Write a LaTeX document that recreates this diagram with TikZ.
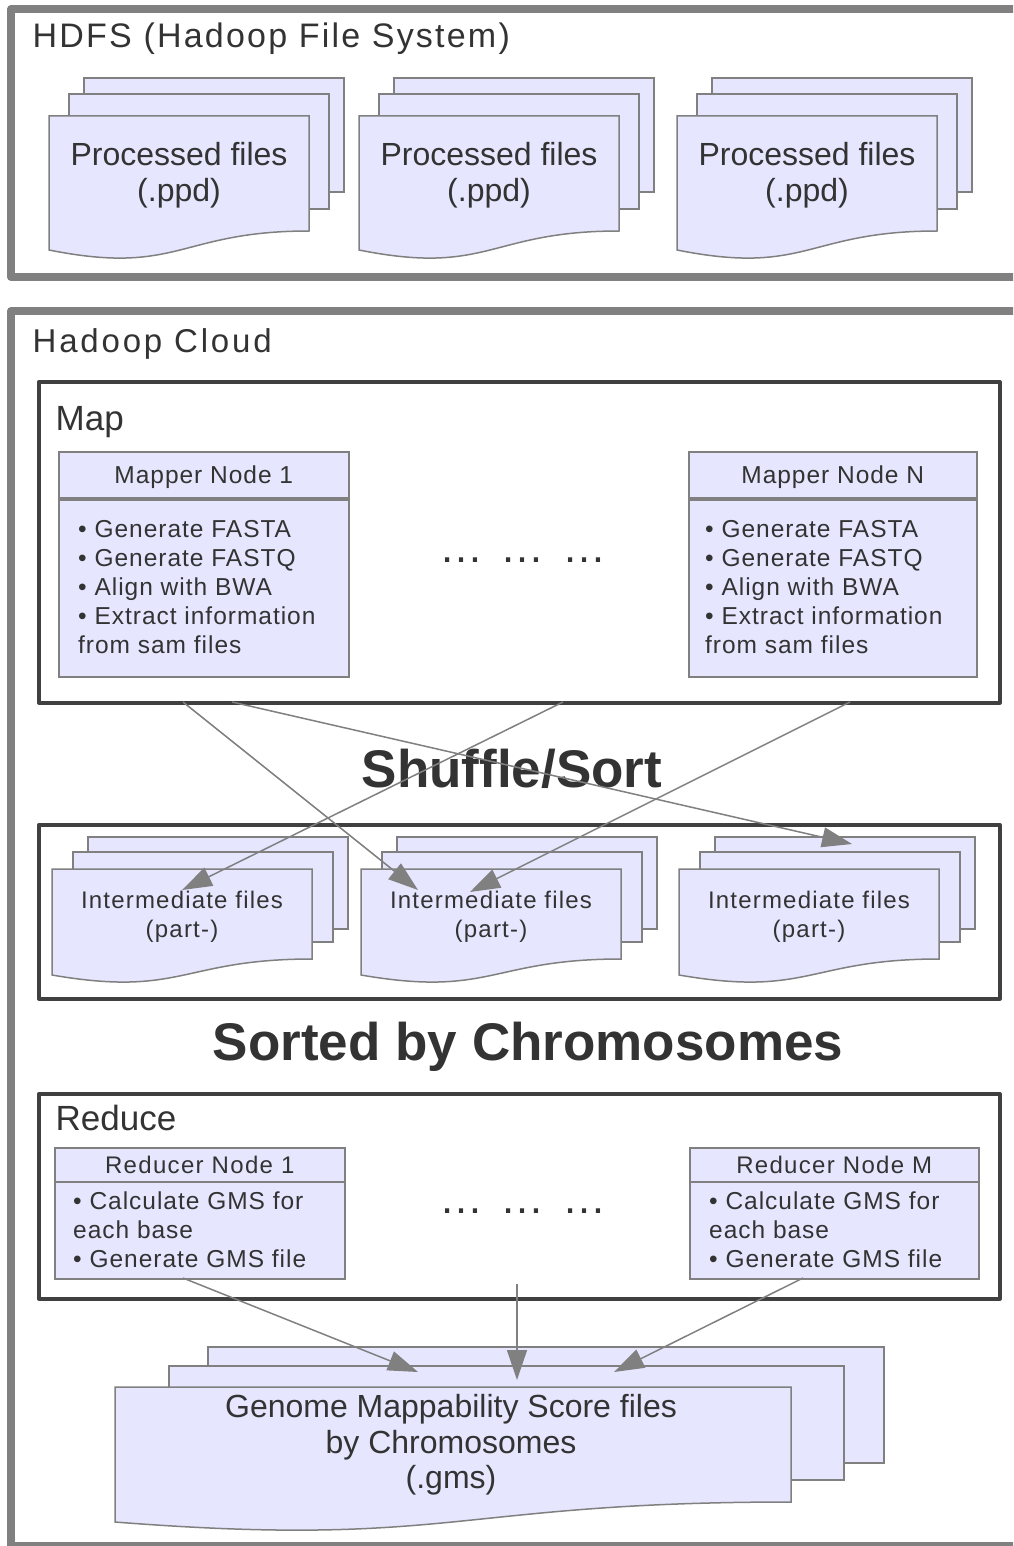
\documentclass[tikz,border=0pt]{standalone}
\usepackage{fontspec}
\setmainfont{Liberation Sans}
\newfontfamily\ftitle[LetterSpace=6.5]{Liberation Sans}
\newfontfamily\fcloud[LetterSpace=8.5]{Liberation Sans}
\newfontfamily\fsmall[LetterSpace=4]{Liberation Sans}
\newfontfamily\fred[LetterSpace=5.5]{Liberation Sans}
\newfontfamily\fmid[LetterSpace=5]{Liberation Sans}
\usetikzlibrary{arrows.meta,calc}
\definecolor{docfill}{HTML}{E6E6FF}
\definecolor{docline}{HTML}{808080}
\definecolor{frameline}{HTML}{808080}
\definecolor{boxline}{HTML}{404040}
\definecolor{txt}{HTML}{333333}
\definecolor{arr}{HTML}{808080}
\tikzset{
  docsheet/.style={fill=docfill,draw=docline,line width=1.5pt,line join=miter},
  frame/.style={draw=frameline,line width=8pt,line join=round},
  stagebox/.style={draw=boxline,line width=3.5pt,line join=round,anchor=north west,inner sep=0pt},
  nodebox/.style={draw=docline,fill=docfill,line width=1.5pt,anchor=north west,inner sep=0pt},
  paneltitle/.style={anchor=base west,inner sep=0pt,text=txt,font=\ftitle\fontsize{34}{38}\selectfont},
  stagetitle/.style={anchor=base west,inner sep=0pt,text=txt,font=\fontsize{35}{40}\selectfont},
  doctext/.style={align=center,inner sep=0pt,text=txt},
  hdrtext/.style={text=txt,font=\fsmall\fontsize{24.5}{29}\selectfont,text height=17.6pt,text depth=0pt},
  bodytext/.style={anchor=north west,align=left,inner sep=0pt,text=txt},
  bigbold/.style={anchor=base,inner sep=0pt,text=txt,font=\bfseries\fontsize{53}{60}\selectfont},
  dots/.style={anchor=base west,inner sep=0pt,text=txt,font=\fontsize{44}{50}\selectfont},
  flow/.style={draw=arr,line width=1.5pt,-{Triangle[length=30pt,width=20pt]},arr}
}
% x y W HL HR D
\newcommand{\docfront}[6]{%
  \filldraw[docsheet] (#1,#2) -- ({#1+#3},#2) -- ({#1+#3},{#2+#5})
    .. controls ({#1+0.5*#3},{#2+#5}) and ({#1+0.5*#3},{#2+#4+#6}) .. (#1,{#2+#4}) -- cycle;}
\newcommand{\docback}[4]{\filldraw[docsheet] (#1,#2) rectangle ++(#3,#4);}
\begin{document}
\begin{tikzpicture}[x=1pt,y=-1pt]
\useasboundingbox (0,0) rectangle (1013,1546);
\clip (0,0) rectangle (1013,1546);
\fill[white] (0,0) rectangle (1013,1546);

% ---------- HDFS panel ----------
\draw[frame] (11,9) rectangle (1040,277);
\node[paneltitle] (hdfs) at (32.5,47.5) {HDFS (Hadoop File System)};

\foreach \fx/\nm in {49/p1,359/p2,677/p3}{
  \docback{\fx+35}{78}{260}{114}
  \docback{\fx+20}{94}{260}{115}
  \docfront{\fx}{116}{260}{134}{115}{26}
  \node[doctext,font=\fontsize{32}{36}\selectfont] (\nm) at (\fx+130,175.5) {Processed files\\(.ppd)};
}

% ---------- Hadoop Cloud panel ----------
\draw[frame] (11,311) rectangle (1040,1546);
\node[paneltitle,font=\fcloud\fontsize{33}{38}\selectfont] (cloud) at (32.5,352) {Hadoop Cloud};

% Map stage
\node[stagebox,minimum width=961pt,minimum height=321pt] (map) at (37,380) {};
\node[stagetitle] (maptitle) at (55.5,430) {Map};

\node[nodebox,minimum width=290pt,minimum height=46pt] (m1h) at (58,451) {};
\node[hdrtext] (m1t) at (m1h.center) {Mapper Node 1};
\node[nodebox,minimum width=290pt,minimum height=177pt] (m1b) at (58,499) {};
\node[bodytext,font=\fsmall\fontsize{24.5}{29}\selectfont] (m1x) at (78,518)
  {\rule{0pt}{19pt}• Generate FASTA\\• Generate FASTQ\\• Align with BWA\\• Extract information\\from sam files};

\node[nodebox,minimum width=288pt,minimum height=46pt] (mnh) at (688,451) {};
\node[hdrtext] (mnt) at (mnh.center) {Mapper Node N};
\node[nodebox,minimum width=288pt,minimum height=177pt] (mnb) at (688,499) {};
\node[bodytext,font=\fsmall\fontsize{24.5}{29}\selectfont] (mnx) at (705,518)
  {\rule{0pt}{19pt}• Generate FASTA\\• Generate FASTQ\\• Align with BWA\\• Extract information\\from sam files};

\node[dots] (mdots) at (439,562) {…\hspace{17.5pt}…\hspace{17.5pt}…};

\node[bigbold] (shuffle) at (512,787) {Shuffle/Sort};

% Intermediate stage
\node[stagebox,minimum width=961pt,minimum height=174pt] (inter) at (37,823) {};
\foreach \fx/\nm in {52/i1,361/i2,679/i3}{
  \docback{\fx+36}{837}{260}{92}
  \docback{\fx+21}{852}{260}{90}
  \docfront{\fx}{869}{260}{106}{90}{22.5}
  \node[doctext,font=\fmid\fontsize{24}{29}\selectfont] (\nm) at (\fx+130,917) {Intermediate files\\(part-)};
}

\node[bigbold] (sorted) at (528,1060) {Sorted by Chromosomes};

% Reduce stage
\node[stagebox,minimum width=961pt,minimum height=205pt] (reduce) at (37,1092) {};
\node[stagetitle] (redtitle) at (55.5,1130) {Reduce};

\node[nodebox,minimum width=290pt,minimum height=34pt] (r1h) at (54,1147) {};
\node[hdrtext,font=\fred\fontsize{24}{29}\selectfont,text height=17pt] (r1t) at (r1h.center) {Reducer Node 1};
\node[nodebox,minimum width=290pt,minimum height=97pt] (r1b) at (54,1181) {};
\node[bodytext,font=\fsmall\fontsize{24.5}{29}\selectfont] (r1x) at (73,1190)
  {\rule{0pt}{19pt}• Calculate GMS for\\each base\\• Generate GMS file};

\node[nodebox,minimum width=289pt,minimum height=34pt] (rmh) at (689,1147) {};
\node[hdrtext,font=\fred\fontsize{24}{29}\selectfont,text height=17pt] (rmt) at (rmh.center) {Reducer Node M};
\node[nodebox,minimum width=289pt,minimum height=97pt] (rmb) at (689,1181) {};
\node[bodytext,font=\fsmall\fontsize{24.5}{29}\selectfont] (rmx) at (709,1190)
  {\rule{0pt}{19pt}• Calculate GMS for\\each base\\• Generate GMS file};

\node[dots] (rdots) at (439,1213) {…\hspace{17.5pt}…\hspace{17.5pt}…};

% GMS output
\docback{208}{1347}{676}{116}
\docback{169}{1366}{675}{114}
\docfront{115}{1387}{676}{135}{115}{26.4}
\node[doctext,font=\fontsize{32}{35.5}\selectfont] (gms) at (451,1445)
  {Genome Mappability Score files\\by Chromosomes\\(.gms)};

% ---------- connectors ----------
\coordinate (a0) at (183,702);  \coordinate (a1) at (418,890);
\coordinate (b0) at (232,702);  \coordinate (b1) at (852,844);
\coordinate (c0) at (563,702);  \coordinate (c1) at (182,890);
\coordinate (d0) at (850,702);  \coordinate (d1) at (470,892);
\draw[flow] (a0) -- (a1);
\draw[flow] (b0) -- (b1);
\draw[flow] (c0) -- (c1);
\draw[flow] (d0) -- (d1);

\coordinate (e0) at (183,1278); \coordinate (e1) at (418,1372);
\coordinate (f0) at (517,1284); \coordinate (f1) at (517,1380);
\coordinate (g0) at (803,1278); \coordinate (g1) at (614,1372);
\draw[flow] (e0) -- (e1);
\draw[flow] (f0) -- (f1);
\draw[flow] (g0) -- (g1);
\end{tikzpicture}
\end{document}
